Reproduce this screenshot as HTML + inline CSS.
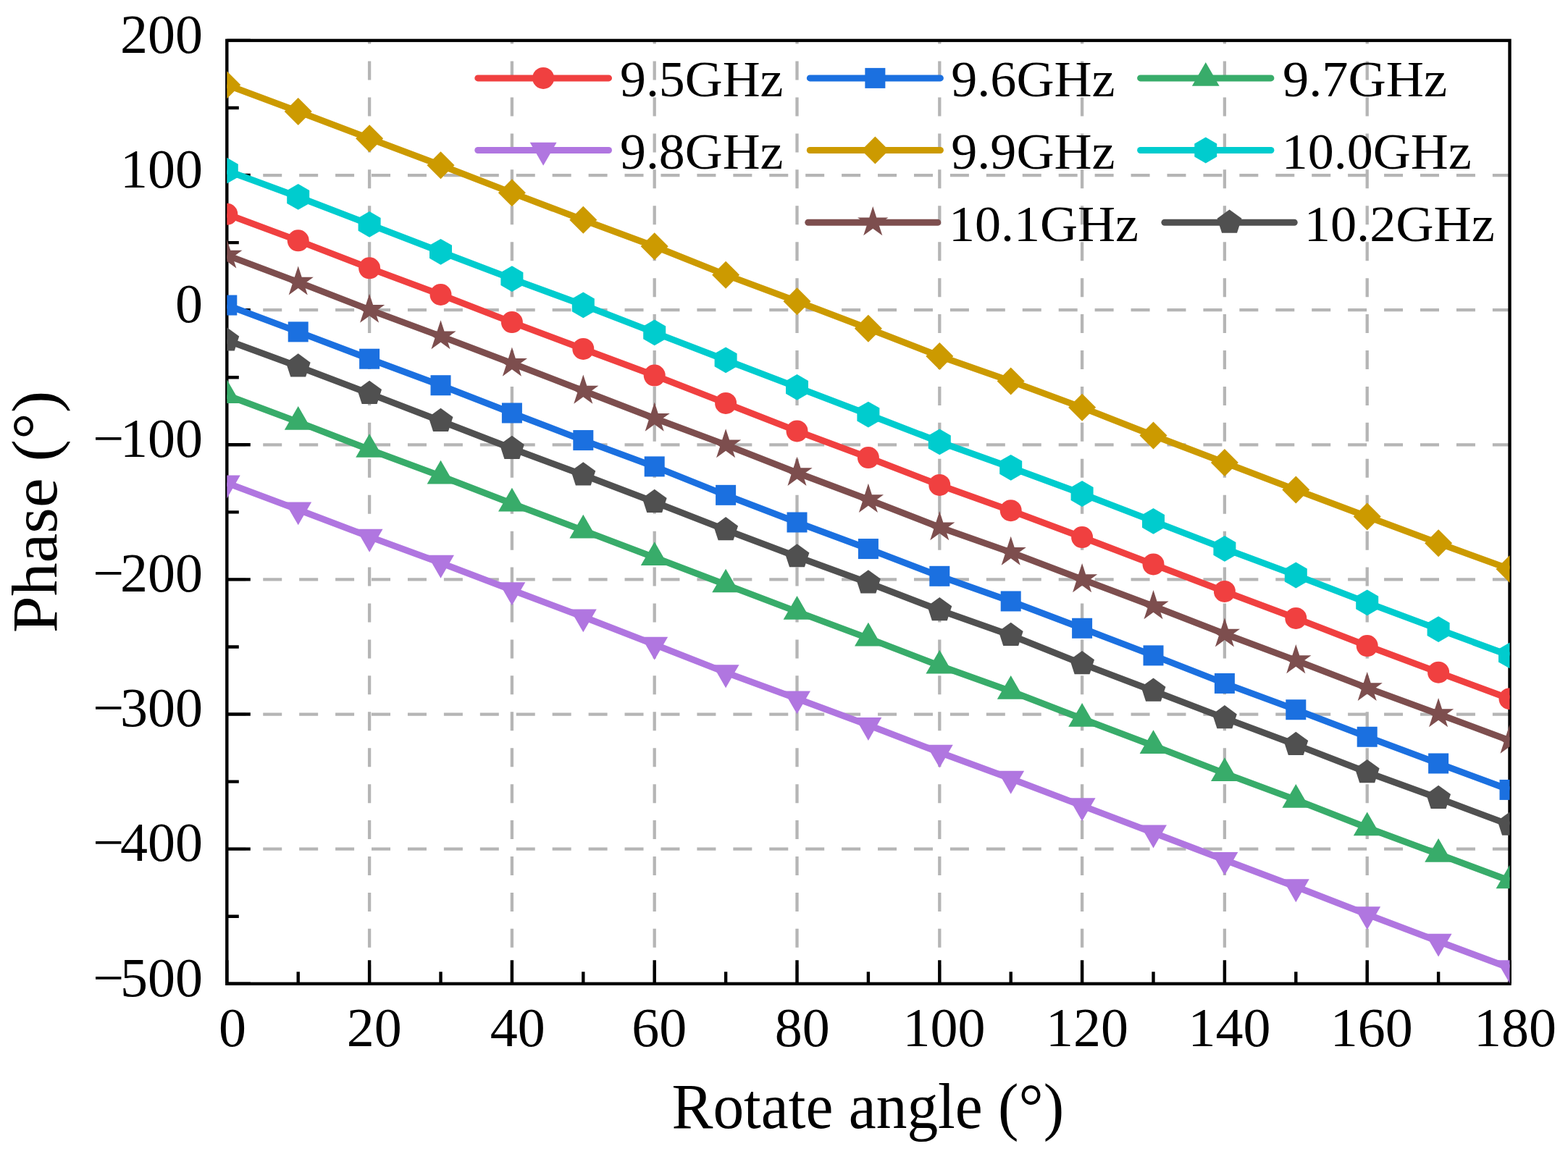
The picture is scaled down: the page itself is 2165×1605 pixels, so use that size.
<!DOCTYPE html>
<html><head><meta charset="utf-8"><title>Phase vs Rotate angle</title>
<style>html,body{margin:0;padding:0;background:#fff;}svg{display:block;}text{font-family:"Liberation Serif",serif;fill:#000;}</style></head><body>
<svg width="2165" height="1605" viewBox="0 0 2165 1605">
<rect width="2165" height="1605" fill="#fff"/>
<defs><clipPath id="pc"><rect x="313.3" y="55.9" width="1771.2" height="1302.9"/></clipPath></defs>
<path d="M313.3 1172.67H2084.5M313.3 986.54H2084.5M313.3 800.41H2084.5M313.3 614.29H2084.5M313.3 428.16H2084.5M313.3 242.03H2084.5" stroke="#B5B5B5" stroke-width="4.3" stroke-dasharray="26 23.93" fill="none"/>
<path d="M510.1 1358.8V55.9M706.9 1358.8V55.9M903.7 1358.8V55.9M1100.5 1358.8V55.9M1297.3 1358.8V55.9M1494.1 1358.8V55.9M1690.9 1358.8V55.9M1887.7 1358.8V55.9" stroke="#B5B5B5" stroke-width="4.3" stroke-dasharray="26 23.93" fill="none"/>
<rect x="313.3" y="55.9" width="1771.2" height="1302.9" fill="none" stroke="#000" stroke-width="4.4"/>
<path d="M313.3 1358.8h32.5M313.3 1265.74h16.5M313.3 1172.67h32.5M313.3 1079.61h16.5M313.3 986.54h32.5M313.3 893.48h16.5M313.3 800.41h32.5M313.3 707.35h16.5M313.3 614.29h32.5M313.3 521.22h16.5M313.3 428.16h32.5M313.3 335.09h16.5M313.3 242.03h32.5M313.3 148.96h16.5M313.3 55.9h32.5M313.3 1358.8v-32.5M411.7 1358.8v-16.5M510.1 1358.8v-32.5M608.5 1358.8v-16.5M706.9 1358.8v-32.5M805.3 1358.8v-16.5M903.7 1358.8v-32.5M1002.1 1358.8v-16.5M1100.5 1358.8v-32.5M1198.9 1358.8v-16.5M1297.3 1358.8v-32.5M1395.7 1358.8v-16.5M1494.1 1358.8v-32.5M1592.5 1358.8v-16.5M1690.9 1358.8v-32.5M1789.3 1358.8v-16.5M1887.7 1358.8v-32.5M1986.1 1358.8v-16.5M2084.5 1358.8v-32.5" stroke="#000" stroke-width="4.4" fill="none"/>
<g clip-path="url(#pc)">
<polyline points="313.3,295.82 411.7,332.35 510.1,370.37 608.5,407 706.9,445.12 805.3,481.95 903.7,518.57 1002.1,556.9 1100.5,595.43 1198.9,632.05 1297.3,669.98 1395.7,705.2 1494.1,742.03 1592.5,779.45 1690.9,816.98 1789.3,853.91 1887.7,892.03 1986.1,928.66 2084.5,965.18" fill="none" stroke="#F04040" stroke-width="9" stroke-linejoin="round"/>
<circle cx="313.3" cy="295.82" r="15" fill="#F04040"/>
<circle cx="411.7" cy="332.35" r="15" fill="#F04040"/>
<circle cx="510.1" cy="370.37" r="15" fill="#F04040"/>
<circle cx="608.5" cy="407" r="15" fill="#F04040"/>
<circle cx="706.9" cy="445.12" r="15" fill="#F04040"/>
<circle cx="805.3" cy="481.95" r="15" fill="#F04040"/>
<circle cx="903.7" cy="518.57" r="15" fill="#F04040"/>
<circle cx="1002.1" cy="556.9" r="15" fill="#F04040"/>
<circle cx="1100.5" cy="595.43" r="15" fill="#F04040"/>
<circle cx="1198.9" cy="632.05" r="15" fill="#F04040"/>
<circle cx="1297.3" cy="669.98" r="15" fill="#F04040"/>
<circle cx="1395.7" cy="705.2" r="15" fill="#F04040"/>
<circle cx="1494.1" cy="742.03" r="15" fill="#F04040"/>
<circle cx="1592.5" cy="779.45" r="15" fill="#F04040"/>
<circle cx="1690.9" cy="816.98" r="15" fill="#F04040"/>
<circle cx="1789.3" cy="853.91" r="15" fill="#F04040"/>
<circle cx="1887.7" cy="892.03" r="15" fill="#F04040"/>
<circle cx="1986.1" cy="928.66" r="15" fill="#F04040"/>
<circle cx="2084.5" cy="965.18" r="15" fill="#F04040"/>
<polyline points="313.3,421.56 411.7,458.38 510.1,495.71 608.5,532.23 706.9,570.46 805.3,608.09 903.7,644.41 1002.1,683.84 1100.5,721.46 1198.9,758.09 1297.3,795.81 1395.7,830.44 1494.1,867.77 1592.5,905.39 1690.9,943.92 1789.3,980.24 1887.7,1017.77 1986.1,1054.49 2084.5,1090.92" fill="none" stroke="#1B70E0" stroke-width="9" stroke-linejoin="round"/>
<rect x="299.3" y="407.56" width="28" height="28" fill="#1B70E0"/>
<rect x="397.7" y="444.38" width="28" height="28" fill="#1B70E0"/>
<rect x="496.1" y="481.71" width="28" height="28" fill="#1B70E0"/>
<rect x="594.5" y="518.23" width="28" height="28" fill="#1B70E0"/>
<rect x="692.9" y="556.46" width="28" height="28" fill="#1B70E0"/>
<rect x="791.3" y="594.09" width="28" height="28" fill="#1B70E0"/>
<rect x="889.7" y="630.41" width="28" height="28" fill="#1B70E0"/>
<rect x="988.1" y="669.84" width="28" height="28" fill="#1B70E0"/>
<rect x="1086.5" y="707.46" width="28" height="28" fill="#1B70E0"/>
<rect x="1184.9" y="744.09" width="28" height="28" fill="#1B70E0"/>
<rect x="1283.3" y="781.81" width="28" height="28" fill="#1B70E0"/>
<rect x="1381.7" y="816.44" width="28" height="28" fill="#1B70E0"/>
<rect x="1480.1" y="853.77" width="28" height="28" fill="#1B70E0"/>
<rect x="1578.5" y="891.39" width="28" height="28" fill="#1B70E0"/>
<rect x="1676.9" y="929.92" width="28" height="28" fill="#1B70E0"/>
<rect x="1775.3" y="966.24" width="28" height="28" fill="#1B70E0"/>
<rect x="1873.7" y="1003.77" width="28" height="28" fill="#1B70E0"/>
<rect x="1972.1" y="1040.49" width="28" height="28" fill="#1B70E0"/>
<rect x="2070.5" y="1076.92" width="28" height="28" fill="#1B70E0"/>
<polyline points="313.3,545.98 411.7,582.9 510.1,620.93 608.5,657.55 706.9,695.48 805.3,732.61 903.7,770.03 1002.1,807.46 1100.5,844.88 1198.9,881.61 1297.3,919.53 1395.7,954.76 1494.1,992.79 1592.5,1030.01 1690.9,1068.14 1789.3,1104.76 1887.7,1143.29 1986.1,1179.81 2084.5,1216.44" fill="none" stroke="#38AC6A" stroke-width="9" stroke-linejoin="round"/>
<polygon points="313.3,524.18 332.18,556.88 294.42,556.88" fill="#38AC6A"/>
<polygon points="411.7,561.1 430.58,593.8 392.82,593.8" fill="#38AC6A"/>
<polygon points="510.1,599.13 528.98,631.83 491.22,631.83" fill="#38AC6A"/>
<polygon points="608.5,635.75 627.38,668.45 589.62,668.45" fill="#38AC6A"/>
<polygon points="706.9,673.68 725.78,706.38 688.02,706.38" fill="#38AC6A"/>
<polygon points="805.3,710.81 824.18,743.51 786.42,743.51" fill="#38AC6A"/>
<polygon points="903.7,748.23 922.58,780.93 884.82,780.93" fill="#38AC6A"/>
<polygon points="1002.1,785.66 1020.98,818.36 983.22,818.36" fill="#38AC6A"/>
<polygon points="1100.5,823.08 1119.38,855.78 1081.62,855.78" fill="#38AC6A"/>
<polygon points="1198.9,859.81 1217.78,892.51 1180.02,892.51" fill="#38AC6A"/>
<polygon points="1297.3,897.73 1316.18,930.43 1278.42,930.43" fill="#38AC6A"/>
<polygon points="1395.7,932.96 1414.58,965.66 1376.82,965.66" fill="#38AC6A"/>
<polygon points="1494.1,970.99 1512.98,1003.69 1475.22,1003.69" fill="#38AC6A"/>
<polygon points="1592.5,1008.21 1611.38,1040.91 1573.62,1040.91" fill="#38AC6A"/>
<polygon points="1690.9,1046.34 1709.78,1079.04 1672.02,1079.04" fill="#38AC6A"/>
<polygon points="1789.3,1082.96 1808.18,1115.66 1770.42,1115.66" fill="#38AC6A"/>
<polygon points="1887.7,1121.49 1906.58,1154.19 1868.82,1154.19" fill="#38AC6A"/>
<polygon points="1986.1,1158.01 2004.98,1190.71 1967.22,1190.71" fill="#38AC6A"/>
<polygon points="2084.5,1194.64 2103.38,1227.34 2065.62,1227.34" fill="#38AC6A"/>
<polyline points="313.3,667.15 411.7,704.07 510.1,741.4 608.5,777.52 706.9,814.95 805.3,852.07 903.7,890.3 1002.1,928.83 1100.5,965.05 1198.9,1001.58 1297.3,1039.3 1395.7,1075.43 1494.1,1112.85 1592.5,1150.18 1690.9,1187.71 1789.3,1224.83 1887.7,1262.96 1986.1,1300.28 2084.5,1336.91" fill="none" stroke="#B076E0" stroke-width="9" stroke-linejoin="round"/>
<polygon points="313.3,688.45 331.75,656.5 294.85,656.5" fill="#B076E0"/>
<polygon points="411.7,725.37 430.15,693.42 393.25,693.42" fill="#B076E0"/>
<polygon points="510.1,762.7 528.55,730.75 491.65,730.75" fill="#B076E0"/>
<polygon points="608.5,798.82 626.95,766.87 590.05,766.87" fill="#B076E0"/>
<polygon points="706.9,836.25 725.35,804.3 688.45,804.3" fill="#B076E0"/>
<polygon points="805.3,873.37 823.75,841.42 786.85,841.42" fill="#B076E0"/>
<polygon points="903.7,911.6 922.15,879.65 885.25,879.65" fill="#B076E0"/>
<polygon points="1002.1,950.13 1020.55,918.18 983.65,918.18" fill="#B076E0"/>
<polygon points="1100.5,986.35 1118.95,954.4 1082.05,954.4" fill="#B076E0"/>
<polygon points="1198.9,1022.88 1217.35,990.93 1180.45,990.93" fill="#B076E0"/>
<polygon points="1297.3,1060.6 1315.75,1028.65 1278.85,1028.65" fill="#B076E0"/>
<polygon points="1395.7,1096.73 1414.15,1064.78 1377.25,1064.78" fill="#B076E0"/>
<polygon points="1494.1,1134.15 1512.55,1102.2 1475.65,1102.2" fill="#B076E0"/>
<polygon points="1592.5,1171.48 1610.95,1139.53 1574.05,1139.53" fill="#B076E0"/>
<polygon points="1690.9,1209.01 1709.35,1177.06 1672.45,1177.06" fill="#B076E0"/>
<polygon points="1789.3,1246.13 1807.75,1214.18 1770.85,1214.18" fill="#B076E0"/>
<polygon points="1887.7,1284.26 1906.15,1252.31 1869.25,1252.31" fill="#B076E0"/>
<polygon points="1986.1,1321.58 2004.55,1289.63 1967.65,1289.63" fill="#B076E0"/>
<polygon points="2084.5,1358.21 2102.95,1326.26 2066.05,1326.26" fill="#B076E0"/>
<polyline points="313.3,117.25 411.7,154.08 510.1,191.3 608.5,228.23 706.9,266.35 805.3,303.78 903.7,340.3 1002.1,379.63 1100.5,416.16 1198.9,453.68 1297.3,492.01 1395.7,526.53 1494.1,562.86 1592.5,601.48 1690.9,639.01 1789.3,676.54 1887.7,713.56 1986.1,750.19 2084.5,786.11" fill="none" stroke="#CC9A00" stroke-width="9" stroke-linejoin="round"/>
<polygon points="313.3,98.25 332.3,117.25 313.3,136.25 294.3,117.25" fill="#CC9A00"/>
<polygon points="411.7,135.08 430.7,154.08 411.7,173.08 392.7,154.08" fill="#CC9A00"/>
<polygon points="510.1,172.3 529.1,191.3 510.1,210.3 491.1,191.3" fill="#CC9A00"/>
<polygon points="608.5,209.23 627.5,228.23 608.5,247.23 589.5,228.23" fill="#CC9A00"/>
<polygon points="706.9,247.35 725.9,266.35 706.9,285.35 687.9,266.35" fill="#CC9A00"/>
<polygon points="805.3,284.78 824.3,303.78 805.3,322.78 786.3,303.78" fill="#CC9A00"/>
<polygon points="903.7,321.3 922.7,340.3 903.7,359.3 884.7,340.3" fill="#CC9A00"/>
<polygon points="1002.1,360.63 1021.1,379.63 1002.1,398.63 983.1,379.63" fill="#CC9A00"/>
<polygon points="1100.5,397.16 1119.5,416.16 1100.5,435.16 1081.5,416.16" fill="#CC9A00"/>
<polygon points="1198.9,434.68 1217.9,453.68 1198.9,472.68 1179.9,453.68" fill="#CC9A00"/>
<polygon points="1297.3,473.01 1316.3,492.01 1297.3,511.01 1278.3,492.01" fill="#CC9A00"/>
<polygon points="1395.7,507.53 1414.7,526.53 1395.7,545.53 1376.7,526.53" fill="#CC9A00"/>
<polygon points="1494.1,543.86 1513.1,562.86 1494.1,581.86 1475.1,562.86" fill="#CC9A00"/>
<polygon points="1592.5,582.48 1611.5,601.48 1592.5,620.48 1573.5,601.48" fill="#CC9A00"/>
<polygon points="1690.9,620.01 1709.9,639.01 1690.9,658.01 1671.9,639.01" fill="#CC9A00"/>
<polygon points="1789.3,657.54 1808.3,676.54 1789.3,695.54 1770.3,676.54" fill="#CC9A00"/>
<polygon points="1887.7,694.56 1906.7,713.56 1887.7,732.56 1868.7,713.56" fill="#CC9A00"/>
<polygon points="1986.1,731.19 2005.1,750.19 1986.1,769.19 1967.1,750.19" fill="#CC9A00"/>
<polygon points="2084.5,767.11 2103.5,786.11 2084.5,805.11 2065.5,786.11" fill="#CC9A00"/>
<polyline points="313.3,235.7 411.7,271.93 510.1,309.85 608.5,347.78 706.9,385.1 805.3,421.33 903.7,459.35 1002.1,497.28 1100.5,534.91 1198.9,572.53 1297.3,610.46 1395.7,645.78 1494.1,682.01 1592.5,719.83 1690.9,757.86 1789.3,794.49 1887.7,832.41 1986.1,869.14 2084.5,905.46" fill="none" stroke="#00CCCE" stroke-width="9" stroke-linejoin="round"/>
<polygon points="313.3,217.8 328.8,226.75 328.8,244.65 313.3,253.6 297.8,244.65 297.8,226.75" fill="#00CCCE"/>
<polygon points="411.7,254.03 427.2,262.98 427.2,280.88 411.7,289.83 396.2,280.88 396.2,262.98" fill="#00CCCE"/>
<polygon points="510.1,291.95 525.6,300.9 525.6,318.8 510.1,327.75 494.6,318.8 494.6,300.9" fill="#00CCCE"/>
<polygon points="608.5,329.88 624,338.83 624,356.73 608.5,365.68 593,356.73 593,338.83" fill="#00CCCE"/>
<polygon points="706.9,367.2 722.4,376.15 722.4,394.05 706.9,403 691.4,394.05 691.4,376.15" fill="#00CCCE"/>
<polygon points="805.3,403.43 820.8,412.38 820.8,430.28 805.3,439.23 789.8,430.28 789.8,412.38" fill="#00CCCE"/>
<polygon points="903.7,441.45 919.2,450.4 919.2,468.3 903.7,477.25 888.2,468.3 888.2,450.4" fill="#00CCCE"/>
<polygon points="1002.1,479.38 1017.6,488.33 1017.6,506.23 1002.1,515.18 986.6,506.23 986.6,488.33" fill="#00CCCE"/>
<polygon points="1100.5,517.01 1116,525.96 1116,543.86 1100.5,552.81 1085,543.86 1085,525.96" fill="#00CCCE"/>
<polygon points="1198.9,554.63 1214.4,563.58 1214.4,581.48 1198.9,590.43 1183.4,581.48 1183.4,563.58" fill="#00CCCE"/>
<polygon points="1297.3,592.56 1312.8,601.51 1312.8,619.41 1297.3,628.36 1281.8,619.41 1281.8,601.51" fill="#00CCCE"/>
<polygon points="1395.7,627.88 1411.2,636.83 1411.2,654.73 1395.7,663.68 1380.2,654.73 1380.2,636.83" fill="#00CCCE"/>
<polygon points="1494.1,664.11 1509.6,673.06 1509.6,690.96 1494.1,699.91 1478.6,690.96 1478.6,673.06" fill="#00CCCE"/>
<polygon points="1592.5,701.93 1608,710.88 1608,728.78 1592.5,737.73 1577,728.78 1577,710.88" fill="#00CCCE"/>
<polygon points="1690.9,739.96 1706.4,748.91 1706.4,766.81 1690.9,775.76 1675.4,766.81 1675.4,748.91" fill="#00CCCE"/>
<polygon points="1789.3,776.59 1804.8,785.54 1804.8,803.44 1789.3,812.39 1773.8,803.44 1773.8,785.54" fill="#00CCCE"/>
<polygon points="1887.7,814.51 1903.2,823.46 1903.2,841.36 1887.7,850.31 1872.2,841.36 1872.2,823.46" fill="#00CCCE"/>
<polygon points="1986.1,851.24 2001.6,860.19 2001.6,878.09 1986.1,887.04 1970.6,878.09 1970.6,860.19" fill="#00CCCE"/>
<polygon points="2084.5,887.56 2100,896.51 2100,914.41 2084.5,923.36 2069,914.41 2069,896.51" fill="#00CCCE"/>
<polyline points="313.3,352.59 411.7,389.61 510.1,427.84 608.5,464.37 706.9,501.79 805.3,539.72 903.7,577.74 1002.1,614.37 1100.5,652.99 1198.9,690.02 1297.3,728.25 1395.7,762.87 1494.1,800.2 1592.5,837.32 1690.9,875.55 1789.3,912.17 1887.7,950.1 1986.1,986.23 2084.5,1022.85" fill="none" stroke="#7D4E4E" stroke-width="9" stroke-linejoin="round"/>
<polygon points="313.3,330.39 318.28,345.73 334.41,345.73 321.37,355.21 326.35,370.55 313.3,361.07 300.25,370.55 305.23,355.21 292.19,345.73 308.32,345.73" fill="#7D4E4E"/>
<polygon points="411.7,367.41 416.68,382.75 432.81,382.75 419.77,392.24 424.75,407.57 411.7,398.1 398.65,407.57 403.63,392.24 390.59,382.75 406.72,382.75" fill="#7D4E4E"/>
<polygon points="510.1,405.64 515.08,420.98 531.21,420.98 518.17,430.46 523.15,445.8 510.1,436.32 497.05,445.8 502.03,430.46 488.99,420.98 505.12,420.98" fill="#7D4E4E"/>
<polygon points="608.5,442.17 613.48,457.51 629.61,457.51 616.57,466.99 621.55,482.33 608.5,472.85 595.45,482.33 600.43,466.99 587.39,457.51 603.52,457.51" fill="#7D4E4E"/>
<polygon points="706.9,479.59 711.88,494.93 728.01,494.93 714.97,504.41 719.95,519.75 706.9,510.27 693.85,519.75 698.83,504.41 685.79,494.93 701.92,494.93" fill="#7D4E4E"/>
<polygon points="805.3,517.52 810.28,532.86 826.41,532.86 813.37,542.34 818.35,557.68 805.3,548.2 792.25,557.68 797.23,542.34 784.19,532.86 800.32,532.86" fill="#7D4E4E"/>
<polygon points="903.7,555.54 908.68,570.88 924.81,570.88 911.77,580.36 916.75,595.7 903.7,586.22 890.65,595.7 895.63,580.36 882.59,570.88 898.72,570.88" fill="#7D4E4E"/>
<polygon points="1002.1,592.17 1007.08,607.51 1023.21,607.51 1010.17,616.99 1015.15,632.33 1002.1,622.85 989.05,632.33 994.03,616.99 980.99,607.51 997.12,607.51" fill="#7D4E4E"/>
<polygon points="1100.5,630.79 1105.48,646.13 1121.61,646.13 1108.57,655.62 1113.55,670.95 1100.5,661.48 1087.45,670.95 1092.43,655.62 1079.39,646.13 1095.52,646.13" fill="#7D4E4E"/>
<polygon points="1198.9,667.82 1203.88,683.16 1220.01,683.16 1206.97,692.64 1211.95,707.98 1198.9,698.5 1185.85,707.98 1190.83,692.64 1177.79,683.16 1193.92,683.16" fill="#7D4E4E"/>
<polygon points="1297.3,706.05 1302.28,721.39 1318.41,721.39 1305.37,730.87 1310.35,746.21 1297.3,736.73 1284.25,746.21 1289.23,730.87 1276.19,721.39 1292.32,721.39" fill="#7D4E4E"/>
<polygon points="1395.7,740.67 1400.68,756.01 1416.81,756.01 1403.77,765.49 1408.75,780.83 1395.7,771.35 1382.65,780.83 1387.63,765.49 1374.59,756.01 1390.72,756.01" fill="#7D4E4E"/>
<polygon points="1494.1,778 1499.08,793.34 1515.21,793.34 1502.17,802.82 1507.15,818.16 1494.1,808.68 1481.05,818.16 1486.03,802.82 1472.99,793.34 1489.12,793.34" fill="#7D4E4E"/>
<polygon points="1592.5,815.12 1597.48,830.46 1613.61,830.46 1600.57,839.94 1605.55,855.28 1592.5,845.8 1579.45,855.28 1584.43,839.94 1571.39,830.46 1587.52,830.46" fill="#7D4E4E"/>
<polygon points="1690.9,853.35 1695.88,868.69 1712.01,868.69 1698.97,878.17 1703.95,893.51 1690.9,884.03 1677.85,893.51 1682.83,878.17 1669.79,868.69 1685.92,868.69" fill="#7D4E4E"/>
<polygon points="1789.3,889.97 1794.28,905.31 1810.41,905.31 1797.37,914.8 1802.35,930.13 1789.3,920.66 1776.25,930.13 1781.23,914.8 1768.19,905.31 1784.32,905.31" fill="#7D4E4E"/>
<polygon points="1887.7,927.9 1892.68,943.24 1908.81,943.24 1895.77,952.72 1900.75,968.06 1887.7,958.58 1874.65,968.06 1879.63,952.72 1866.59,943.24 1882.72,943.24" fill="#7D4E4E"/>
<polygon points="1986.1,964.03 1991.08,979.37 2007.21,979.37 1994.17,988.85 1999.15,1004.19 1986.1,994.71 1973.05,1004.19 1978.03,988.85 1964.99,979.37 1981.12,979.37" fill="#7D4E4E"/>
<polygon points="2084.5,1000.65 2089.48,1015.99 2105.61,1015.99 2092.57,1025.47 2097.55,1040.81 2084.5,1031.33 2071.45,1040.81 2076.43,1025.47 2063.39,1015.99 2079.52,1015.99" fill="#7D4E4E"/>
<polyline points="313.3,470.04 411.7,506.16 510.1,543.59 608.5,581.51 706.9,619.54 805.3,656.06 903.7,693.49 1002.1,731.92 1100.5,768.94 1198.9,805.07 1297.3,842.79 1395.7,877.52 1494.1,916.84 1592.5,954.27 1690.9,991.9 1789.3,1028.62 1887.7,1066.75 1986.1,1102.57 2084.5,1139.3" fill="none" stroke="#505050" stroke-width="9" stroke-linejoin="round"/>
<polygon points="313.3,452.24 330.23,464.54 323.76,484.44 302.84,484.44 296.37,464.54" fill="#505050"/>
<polygon points="411.7,488.36 428.63,500.66 422.16,520.56 401.24,520.56 394.77,500.66" fill="#505050"/>
<polygon points="510.1,525.79 527.03,538.09 520.56,557.99 499.64,557.99 493.17,538.09" fill="#505050"/>
<polygon points="608.5,563.71 625.43,576.01 618.96,595.91 598.04,595.91 591.57,576.01" fill="#505050"/>
<polygon points="706.9,601.74 723.83,614.04 717.36,633.94 696.44,633.94 689.97,614.04" fill="#505050"/>
<polygon points="805.3,638.26 822.23,650.56 815.76,670.47 794.84,670.47 788.37,650.56" fill="#505050"/>
<polygon points="903.7,675.69 920.63,687.99 914.16,707.89 893.24,707.89 886.77,687.99" fill="#505050"/>
<polygon points="1002.1,714.12 1019.03,726.42 1012.56,746.32 991.64,746.32 985.17,726.42" fill="#505050"/>
<polygon points="1100.5,751.14 1117.43,763.44 1110.96,783.34 1090.04,783.34 1083.57,763.44" fill="#505050"/>
<polygon points="1198.9,787.27 1215.83,799.57 1209.36,819.47 1188.44,819.47 1181.97,799.57" fill="#505050"/>
<polygon points="1297.3,824.99 1314.23,837.29 1307.76,857.19 1286.84,857.19 1280.37,837.29" fill="#505050"/>
<polygon points="1395.7,859.72 1412.63,872.02 1406.16,891.92 1385.24,891.92 1378.77,872.02" fill="#505050"/>
<polygon points="1494.1,899.04 1511.03,911.34 1504.56,931.25 1483.64,931.25 1477.17,911.34" fill="#505050"/>
<polygon points="1592.5,936.47 1609.43,948.77 1602.96,968.67 1582.04,968.67 1575.57,948.77" fill="#505050"/>
<polygon points="1690.9,974.1 1707.83,986.4 1701.36,1006.3 1680.44,1006.3 1673.97,986.4" fill="#505050"/>
<polygon points="1789.3,1010.82 1806.23,1023.12 1799.76,1043.02 1778.84,1043.02 1772.37,1023.12" fill="#505050"/>
<polygon points="1887.7,1048.95 1904.63,1061.25 1898.16,1081.15 1877.24,1081.15 1870.77,1061.25" fill="#505050"/>
<polygon points="1986.1,1084.77 2003.03,1097.07 1996.56,1116.97 1975.64,1116.97 1969.17,1097.07" fill="#505050"/>
<polygon points="2084.5,1121.5 2101.43,1133.8 2094.96,1153.7 2074.04,1153.7 2067.57,1133.8" fill="#505050"/>
</g>
<text y="1375.6" font-size="76" text-anchor="end"><tspan x="171.2">&#8722;</tspan><tspan x="280.1">500</tspan></text>
<text y="1189.47" font-size="76" text-anchor="end"><tspan x="171.2">&#8722;</tspan><tspan x="280.1">400</tspan></text>
<text y="1003.34" font-size="76" text-anchor="end"><tspan x="171.2">&#8722;</tspan><tspan x="280.1">300</tspan></text>
<text y="817.21" font-size="76" text-anchor="end"><tspan x="171.2">&#8722;</tspan><tspan x="280.1">200</tspan></text>
<text y="631.09" font-size="76" text-anchor="end"><tspan x="171.2">&#8722;</tspan><tspan x="280.1">100</tspan></text>
<text x="280.1" y="444.96" font-size="76" text-anchor="end">0</text>
<text x="280.1" y="258.83" font-size="76" text-anchor="end">100</text>
<text x="280.1" y="72.7" font-size="76" text-anchor="end">200</text>
<text x="301.9" y="1445.2" font-size="76">0</text>
<text x="478.78" y="1445.2" font-size="76">20</text>
<text x="676.71" y="1445.2" font-size="76">40</text>
<text x="872.31" y="1445.2" font-size="76">60</text>
<text x="1069.7" y="1445.2" font-size="76">80</text>
<text x="1246.61" y="1445.2" font-size="76">100</text>
<text x="1443.91" y="1445.2" font-size="76">120</text>
<text x="1640.41" y="1445.2" font-size="76">140</text>
<text x="1836.81" y="1445.2" font-size="76">160</text>
<text x="2034.91" y="1445.2" font-size="76">180</text>
<text x="927.44" y="1558.4" font-size="88" textLength="541.71" lengthAdjust="spacingAndGlyphs">Rotate angle (°)</text>
<g transform="rotate(-90)"><text x="-874.34" y="78.1" font-size="88" textLength="334.67" lengthAdjust="spacingAndGlyphs">Phase (°)</text></g>
<line x1="659.8" y1="107.9" x2="840.5" y2="107.9" stroke="#F04040" stroke-width="9" stroke-linecap="round"/>
<circle cx="750.15" cy="107.9" r="15" fill="#F04040"/>
<text x="855.98" y="133.4" font-size="69" textLength="225.52" lengthAdjust="spacingAndGlyphs">9.5GHz</text>
<line x1="1118.3" y1="107.9" x2="1298.4" y2="107.9" stroke="#1B70E0" stroke-width="9" stroke-linecap="round"/>
<rect x="1194.35" y="93.9" width="28" height="28" fill="#1B70E0"/>
<text x="1313.28" y="133.4" font-size="69" textLength="226.33" lengthAdjust="spacingAndGlyphs">9.6GHz</text>
<line x1="1574.6" y1="107.9" x2="1754.9" y2="107.9" stroke="#38AC6A" stroke-width="9" stroke-linecap="round"/>
<polygon points="1664.75,86.1 1683.63,118.8 1645.87,118.8" fill="#38AC6A"/>
<text x="1770.97" y="133.4" font-size="69" textLength="227.05" lengthAdjust="spacingAndGlyphs">9.7GHz</text>
<line x1="659.8" y1="207.5" x2="840.5" y2="207.5" stroke="#B076E0" stroke-width="9" stroke-linecap="round"/>
<polygon points="750.15,228.8 768.6,196.85 731.7,196.85" fill="#B076E0"/>
<text x="855.98" y="233" font-size="69" textLength="225.52" lengthAdjust="spacingAndGlyphs">9.8GHz</text>
<line x1="1118.3" y1="207.5" x2="1298.4" y2="207.5" stroke="#CC9A00" stroke-width="9" stroke-linecap="round"/>
<polygon points="1208.35,188.5 1227.35,207.5 1208.35,226.5 1189.35,207.5" fill="#CC9A00"/>
<text x="1313.28" y="233" font-size="69" textLength="226.33" lengthAdjust="spacingAndGlyphs">9.9GHz</text>
<line x1="1574.6" y1="207.5" x2="1754.9" y2="207.5" stroke="#00CCCE" stroke-width="9" stroke-linecap="round"/>
<polygon points="1664.75,189.6 1680.25,198.55 1680.25,216.45 1664.75,225.4 1649.25,216.45 1649.25,198.55" fill="#00CCCE"/>
<text x="1769.88" y="233" font-size="69" textLength="261.72" lengthAdjust="spacingAndGlyphs">10.0GHz</text>
<line x1="1115.8" y1="307.3" x2="1294.7" y2="307.3" stroke="#7D4E4E" stroke-width="9" stroke-linecap="round"/>
<polygon points="1205.25,285.1 1210.23,300.44 1226.36,300.44 1213.32,309.92 1218.3,325.26 1205.25,315.78 1192.2,325.26 1197.18,309.92 1184.14,300.44 1200.27,300.44" fill="#7D4E4E"/>
<text x="1309.97" y="332.8" font-size="69" textLength="262.14" lengthAdjust="spacingAndGlyphs">10.1GHz</text>
<line x1="1607.9" y1="307.3" x2="1787.2" y2="307.3" stroke="#505050" stroke-width="9" stroke-linecap="round"/>
<polygon points="1697.55,289.5 1714.48,301.8 1708.01,321.7 1687.09,321.7 1680.62,301.8" fill="#505050"/>
<text x="1800.74" y="332.8" font-size="69" textLength="263.27" lengthAdjust="spacingAndGlyphs">10.2GHz</text>
</svg></body></html>
